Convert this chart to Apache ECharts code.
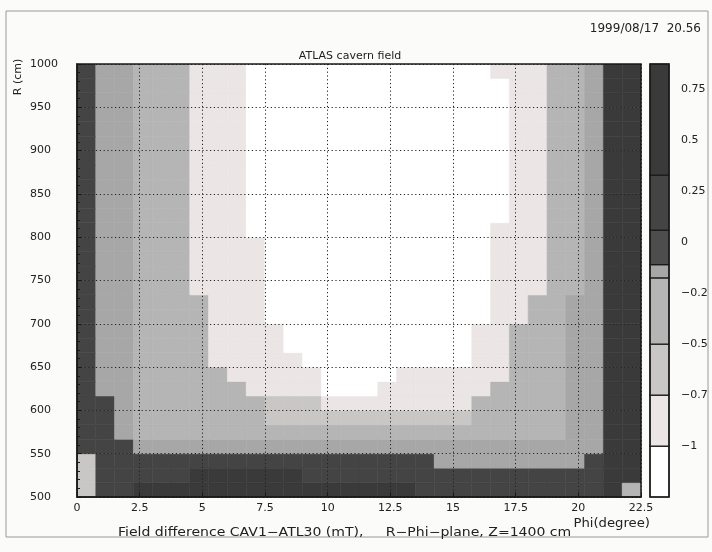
<!DOCTYPE html>
<html>
<head>
<meta charset="utf-8">
<script src="https://cdn.jsdelivr.net/npm/echarts@6/dist/echarts.min.js"></script>
<style>
html, body { margin: 0; padding: 0; background: #fbfbf9; }
#main { width: 712px; height: 552px; }
</style>
</head>
<body>
<div id="main"></div>
<script>
// contour levels (mT), grey of each level and the value used for a cell of that level
var levelEdges = [-1.25, -1.0, -0.75, -0.5, -0.175, -0.11, 0.06, 0.33, 0.875];
var levelColors = ['#ffffff', '#ebe5e5', '#c9c6c6', '#b5b5b5', '#a7a7a7', '#4d4d4d', '#444444', '#3a3a3a'];
var levelValues = [-1.1, -0.88, -0.62, -0.35, -0.14, -0.02, 0.2, 0.6];

// colorbar labels (as printed, the right ones are cut by the page)
var barTicks = [0.75, 0.5, 0.25, 0, -0.25, -0.5, -0.75, -1];
var barLabels = ['0.75', '0.5', '0.25', '0', '\u22120.2', '\u22120.5', '\u22120.7', '\u22121'];

// binning: 30 phi bins over 0..22.5 deg, 30 R bins over 500..1000 cm
var phiMin = 0, phiMax = 22.5, nPhi = 30;
var rMin = 500, rMax = 1000, nR = 30;

// field difference level per cell, top row = R 983..1000, one char per phi bin
var fieldRows = [
  '644333111000000000000011133477',
  '644333111000000000000001133477',
  '644333111000000000000001133477',
  '644333111000000000000001133477',
  '644333111000000000000001133477',
  '644333111000000000000001133477',
  '644333111000000000000001133477',
  '644333111000000000000001133477',
  '644333111000000000000001133477',
  '644333111000000000000001133477',
  '644333111000000000000001133477',
  '644333111000000000000011133477',
  '644333111100000000000011133477',
  '644333111100000000000011133477',
  '644333111100000000000011133477',
  '644333111100000000000011133477',
  '644333311100000000000011334477',
  '644333311100000000000011334477',
  '644333311110000000000113334477',
  '644333311110000000000113334477',
  '644333311111000000000113334477',
  '644333331111100001111113334477',
  '644333333111100011111133334477',
  '664333333322211111111333334477',
  '664333333322222222222333334477',
  '664333333333333333333333334477',
  '666444444444444444444444444477',
  '266666666666666666644444444677',
  '266666777777666666666666666677',
  '266777777777777777666666666673'
];

var phiBin = (phiMax - phiMin) / nPhi;
var rBin = (rMax - rMin) / nR;

var cells = [];
for (var r = 0; r < nR; r++) {
  var row = fieldRows[nR - 1 - r];
  for (var c = 0; c < nPhi; c++) {
    cells.push([phiMin + c * phiBin, rMin + r * rBin, levelValues[+row[c]]]);
  }
}

var barBoxes = [];
for (var i = 0; i < levelValues.length; i++) {
  barBoxes.push([levelEdges[i], levelEdges[i + 1], levelValues[i]]);
}

var pieces = [];
for (var i = 0; i < levelColors.length; i++) {
  pieces.push({ gte: levelEdges[i], lt: levelEdges[i + 1], color: levelColors[i] });
}

var font = 'DejaVu Sans';

var myChart = echarts.init(document.getElementById('main'), null, { renderer: 'canvas' });

var option = {
  backgroundColor: '#fbfbf9',
  animation: false,
  textStyle: { fontFamily: font },
  grid: [
    { left: 77, top: 64, width: 564, height: 433, show: true, borderColor: '#1a1a1a', borderWidth: 1.5, backgroundColor: 'transparent', z: 6, outerBoundsMode: 'none' },
    { left: 650, top: 64, width: 19, height: 433, show: true, borderColor: '#1a1a1a', borderWidth: 1.5, backgroundColor: 'transparent', z: 6, outerBoundsMode: 'none' }
  ],
  visualMap: {
    type: 'piecewise',
    show: false,
    dimension: 2,
    seriesIndex: [0, 1],
    pieces: pieces
  },
  xAxis: [
    {
      gridIndex: 0, type: 'value', min: phiMin, max: phiMax, interval: 2.5, z: 5,
      axisLine: { show: true, lineStyle: { color: '#1a1a1a', width: 1.5 } },
      axisTick: { show: true, inside: true, length: 5, lineStyle: { color: '#1a1a1a' } },
      axisLabel: { color: '#222', fontSize: 11, fontFamily: font, margin: 6 },
      splitLine: { show: true, lineStyle: { color: '#222', width: 1, type: [1.2, 2.6] } }
    },
    {
      gridIndex: 1, type: 'value', min: 0, max: 1, show: false
    }
  ],
  yAxis: [
    {
      gridIndex: 0, type: 'value', min: rMin, max: rMax, interval: 50, z: 5,
      axisLine: { show: true, lineStyle: { color: '#1a1a1a', width: 1.5 } },
      axisTick: { show: true, inside: true, length: 5, lineStyle: { color: '#1a1a1a' } },
      minorTick: { show: true, splitNumber: 5, length: 3, lineStyle: { color: '#1a1a1a' } },
      axisLabel: {
        color: '#222', fontSize: 11, fontFamily: font, margin: 47, align: 'left',
        formatter: function (v) { return String(v); }
      },
      splitLine: { show: true, lineStyle: { color: '#222', width: 1, type: [1.2, 2.6] } }
    },
    {
      gridIndex: 1, type: 'value', position: 'right', min: -1.25, max: 0.875, interval: 0.25,
      axisLine: { show: false }, axisTick: { show: false }, splitLine: { show: false },
      axisLabel: {
        color: '#222', fontSize: 11, fontFamily: font, margin: 12,
        formatter: function (v) {
          var k = barTicks.indexOf(Math.round(v * 100) / 100);
          return k < 0 ? '' : barLabels[k];
        }
      }
    }
  ],
  series: [
    {
      type: 'custom',
      xAxisIndex: 0, yAxisIndex: 0, z: 1, clip: true,
      data: cells,
      renderItem: function (params, api) {
        var a = api.coord([api.value(0), api.value(1) + rBin]);
        var b = api.coord([api.value(0) + phiBin, api.value(1)]);
        var col = api.visual('color');
        return {
          type: 'rect',
          shape: { x: a[0], y: a[1], width: b[0] - a[0], height: b[1] - a[1] },
          style: { fill: col, stroke: col, lineWidth: 0.6 }
        };
      }
    },
    {
      type: 'custom',
      xAxisIndex: 1, yAxisIndex: 1, z: 1,
      data: barBoxes,
      renderItem: function (params, api) {
        var a = api.coord([0, api.value(1)]);
        var b = api.coord([1, api.value(0)]);
        return {
          type: 'rect',
          shape: { x: a[0], y: a[1], width: b[0] - a[0], height: b[1] - a[1] },
          style: { fill: api.visual('color'), stroke: '#1a1a1a', lineWidth: 1.2 }
        };
      }
    }
  ],
  graphic: [
    { type: 'rect', shape: { x: 6, y: 11, width: 702, height: 526 }, style: { fill: 'none', stroke: '#9a9a9a', lineWidth: 1 }, z: 0 },
    { type: 'text', x: 701, y: 29, style: { text: '1999/08/17  20.56', font: '12px "DejaVu Sans"', fill: '#222', textAlign: 'right', textVerticalAlign: 'middle' } },
    { type: 'text', x: 350, y: 56, style: { text: 'ATLAS cavern field', font: '11px "DejaVu Sans"', fill: '#222', textAlign: 'center', textVerticalAlign: 'middle' } },
    { type: 'text', x: 18, y: 77, rotation: Math.PI / 2, style: { text: 'R (cm)', font: '11px "DejaVu Sans"', fill: '#222', textAlign: 'center', textVerticalAlign: 'middle' } },
    { type: 'text', x: 650, y: 524, scaleX: 1.1, style: { text: 'Phi(degree)', font: '12px "DejaVu Sans"', fill: '#222', textAlign: 'right', textVerticalAlign: 'middle' } },
    { type: 'text', x: 118, y: 533, scaleX: 1.17, style: { text: 'Field difference CAV1\u2212ATL30 (mT),     R\u2212Phi\u2212plane, Z=1400 cm', font: '12px "DejaVu Sans"', fill: '#222', textAlign: 'left', textVerticalAlign: 'middle' } }
  ]
};

myChart.setOption(option);
</script>
</body>
</html>
